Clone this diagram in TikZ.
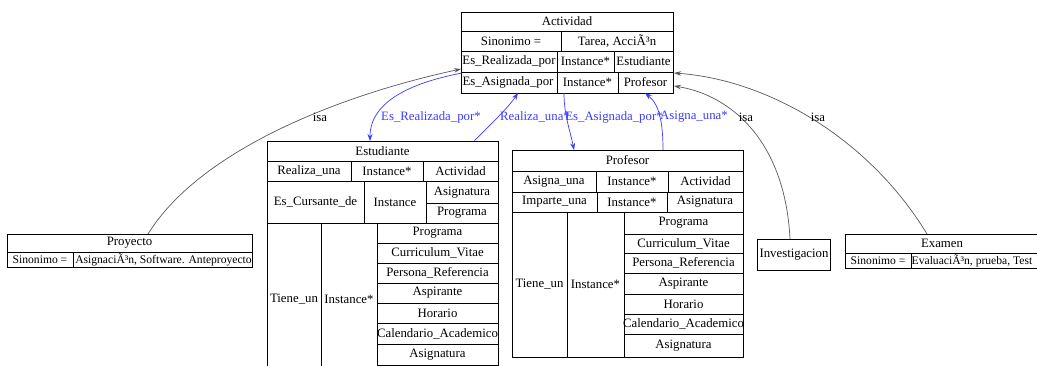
\documentclass[tikz,border=0pt]{standalone}
\usepackage{fontspec}
\setmainfont{Liberation Serif}
\usetikzlibrary{arrows.meta}
\definecolor{edgeblue}{RGB}{60,60,255}
\definecolor{isagray}{RGB}{90,90,90}
\tikzset{
  tbl/.style={draw, line width=0.8pt, anchor=north west, inner sep=0pt, outer sep=0pt},
  grid/.style={line width=0.8pt},
  txt/.style={inner sep=0pt, font=\fontsize{12.8}{14}\selectfont},
  longtxt/.style={inner sep=0pt, font=\fontsize{11.6}{13}\selectfont},
  rellabel/.style={txt, text=edgeblue},
  rel/.style={draw=edgeblue, line width=0.7pt, -{Stealth[length=7pt,width=5pt]}},
  isa/.style={draw=isagray, line width=0.7pt, -{Stealth[length=7pt,width=4.5pt]}},
}
\begin{document}
\begin{tikzpicture}[x=1pt,y=-1pt]
\useasboundingbox (0,0) rectangle (1037,366);
\fill[white] (0,0) rectangle (1037,366);
\clip (0,0) rectangle (1037,366);

% ---------- Actividad ----------
\node[tbl, minimum width=212pt, minimum height=81pt] (act) at (461,12) {};
\draw[grid] (461,31) -- (673,31) (461,51) -- (673,51) (461,72) -- (673,72)
  (561,31) -- (561,51) (557,51) -- (557,93) (614,51) -- (614,72) (618,72) -- (618,93);
\node[txt] (actH) at (567,21.5) {Actividad};
\node[txt] (actS1) at (511,41) {Sinonimo =};
\node[txt] (actS2) at (617,41) {Tarea, AcciÃ³n};
\node[txt] (actR1) at (509,61.5) {Es\_Realizada\_por};
\node[txt] (actR2) at (585.5,61.5) {Instance*};
\node[txt] (actR3) at (643.5,61.5) {Estudiante};
\node[txt] (actA1) at (508,82.5) {Es\_Asignada\_por};
\node[txt] (actA2) at (587.5,82.5) {Instance*};
\node[txt] (actA3) at (645.5,82.5) {Profesor};

% ---------- Estudiante ----------
\node[tbl, minimum width=231pt, minimum height=239pt] (est) at (267,141) {};
\draw[grid] (267,161) -- (498,161) (267,181) -- (498,181) (267,223) -- (498,223)
  (351,161) -- (351,181) (423,161) -- (423,181)
  (364,181) -- (364,223) (426,181) -- (426,223) (426,203) -- (498,203)
  (321,223) -- (321,380) (377,223) -- (377,380);
\foreach \yy in {243,263,283,303,323,344,365}
  \draw[grid] (377,\yy) -- (498,\yy);
\node[txt] (estH) at (382.5,151) {Estudiante};
\node[txt] (estR1) at (309,171) {Realiza\_una};
\node[txt] (estR2) at (387,171) {Instance*};
\node[txt] (estR3) at (460.5,171) {Actividad};
\node[txt] (estC1) at (315.5,202) {Es\_Cursante\_de};
\node[txt] (estC2) at (395,202) {Instance};
\node[txt] (estC3) at (462,192.5) {Asignatura};
\node[txt] (estC4) at (462,213) {Programa};
\node[txt] (estT1) at (294,299) {Tiene\_un};
\node[txt] (estT2) at (349,299) {Instance*};
\node[txt] (estT3) at (437.5,233) {Programa};
\node[txt] (estT4) at (437.5,253) {Curriculum\_Vitae};
\node[txt] (estT5) at (437.5,273) {Persona\_Referencia};
\node[txt] (estT6) at (437.5,293) {Aspirante};
\node[txt] (estT7) at (437.5,313) {Horario};
\node[txt] (estT8) at (437.5,333.5) {Calendario\_Academico};
\node[txt] (estT9) at (437.5,354.5) {Asignatura};

% ---------- Profesor ----------
\node[tbl, minimum width=231pt, minimum height=207pt] (prof) at (512,150) {};
\draw[grid] (512,171) -- (743,171) (512,192) -- (743,192) (512,212) -- (743,212)
  (596,171) -- (596,192) (668,171) -- (668,192)
  (597,192) -- (597,212) (667,192) -- (667,212)
  (567,212) -- (567,357) (624,212) -- (624,357);
\foreach \yy in {234,253,273,294,314,334}
  \draw[grid] (624,\yy) -- (743,\yy);
\node[txt] (profH) at (627.5,160.5) {Profesor};
\node[txt] (profA1) at (554,181.5) {Asigna\_una};
\node[txt] (profA2) at (632,181.5) {Instance*};
\node[txt] (profA3) at (705.5,181.5) {Actividad};
\node[txt] (profI1) at (554.5,202) {Imparte\_una};
\node[txt] (profI2) at (632,202) {Instance*};
\node[txt] (profI3) at (705,202) {Asignatura};
\node[txt] (profT1) at (539.5,284.5) {Tiene\_un};
\node[txt] (profT2) at (595.5,284.5) {Instance*};
\node[txt] (profT3) at (683.5,223) {Programa};
\node[txt] (profT4) at (683.5,243.5) {Curriculum\_Vitae};
\node[txt] (profT5) at (683.5,263) {Persona\_Referencia};
\node[txt] (profT6) at (683.5,283.5) {Aspirante};
\node[txt] (profT7) at (683.5,304) {Horario};
\node[txt] (profT8) at (683.5,324) {Calendario\_Academico};
\node[txt] (profT9) at (683.5,345.5) {Asignatura};

% ---------- Proyecto ----------
\node[tbl, minimum width=245pt, minimum height=33pt] (proy) at (7,234) {};
\draw[grid] (7,252) -- (252,252) (73,252) -- (73,267);
\node[txt] (proyH) at (129.5,243) {Proyecto};
\node[longtxt] (proyS1) at (40,259.5) {Sinonimo =};
\node[longtxt] (proyS2) at (163.5,259.5) {AsignaciÃ³n, Software. Anteproyecto};

% ---------- Investigacion ----------
\node[tbl, minimum width=73pt, minimum height=31pt] (inv) at (757,239) {};
\node[txt] (invT) at (794,254.5) {Investigacion};

% ---------- Examen ----------
\node[tbl, minimum width=194pt, minimum height=34pt] (exa) at (845,234) {};
\draw[grid] (845,253) -- (1039,253) (911,253) -- (911,268);
\node[txt] (exaH) at (942,243.5) {Examen};
\node[longtxt] (exaS1) at (878,260.5) {Sinonimo =};
\node[longtxt] (exaS2) at (972,260.5) {EvaluaciÃ³n, prueba, Test};

% ---------- connector end points on the table borders ----------
\coordinate (proyTop) at (148,234);
\coordinate (actWisa) at (461,69);
\coordinate (actWrel) at (462,73);
\coordinate (estTopL) at (370,141);
\coordinate (estTopR) at (474,141);
\coordinate (actBot1) at (518,93);
\coordinate (actBot2) at (564,93);
\coordinate (actBot3) at (645,93);
\coordinate (profTopL) at (574,150);
\coordinate (profTopR) at (663,150);
\coordinate (actEinv) at (674,86);
\coordinate (actEexa) at (674,73);
\coordinate (invTop) at (790,239);
\coordinate (exaTop) at (927,234);

% ---------- isa links ----------
\draw[isa] (proyTop) .. controls (200,150) and (340,95) .. (actWisa);
\node[txt] (isa1) at (320,117) {isa};
\draw[isa] (invTop) .. controls (785,140) and (730,95) .. (actEinv);
\node[txt] (isa2) at (746,117) {isa};
\draw[isa] (exaTop) .. controls (870,140) and (770,80) .. (actEexa);
\node[txt] (isa3) at (818,117) {isa};

% ---------- relation links ----------
\draw[rel] (actWrel) .. controls (415,82) and (370,100) .. (estTopL);
\node[rellabel] (lab1) at (431,117) {Es\_Realizada\_por*};
\draw[rel] (estTopR) .. controls (490,125) and (508,108) .. (actBot1);
\node[rellabel] (lab2) at (535,117) {Realiza\_una*};
\draw[rel] (actBot2) .. controls (564,115) and (570,130) .. (profTopL);
\node[rellabel] (lab3) at (614,117) {Es\_Asignada\_por*};
\draw[rel] (profTopR) .. controls (663,125) and (660,105) .. (actBot3);
\node[rellabel] (lab4) at (694,117) {Asigna\_una*};
\end{tikzpicture}
\end{document}
